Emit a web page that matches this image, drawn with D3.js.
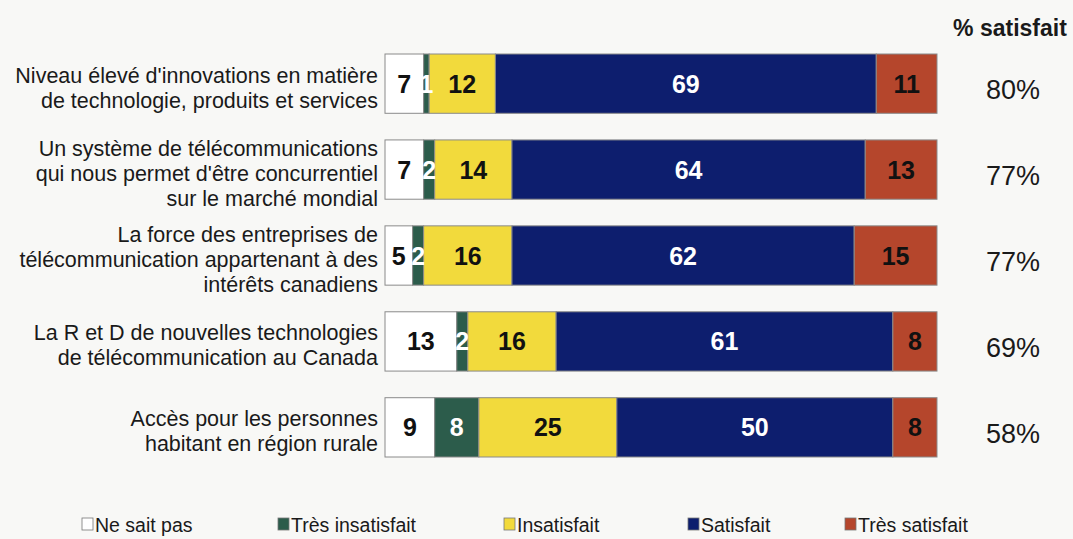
<!DOCTYPE html>
<html>
<head>
<meta charset="utf-8">
<script src="https://cdn.jsdelivr.net/npm/d3@7"></script>
<style>
  body { margin: 0; background: #f8f8f6; }
  svg { display: block; font-family: "Liberation Sans", Arial, sans-serif; }
</style>
</head>
<body>
<div id="chart"></div>
<script>
// categories (one entry per bar, split into the lines shown on the left)
const categories = [
    ["Niveau élevé d'innovations en matière", "de technologie, produits et services"],
    ["Un système de télécommunications", "qui nous permet d'être concurrentiel", "sur le marché mondial"],
    ["La force des entreprises de", "télécommunication appartenant à des", "intérêts canadiens"],
    ["La R et D de nouvelles technologies", "de télécommunication au Canada"],
    ["Accès pour les personnes", "habitant en région rurale"]
]
const seriesNames = ["Ne sait pas", "Très insatisfait", "Insatisfait", "Satisfait", "Très satisfait"]
const neSaitPas = [7, 7, 5, 13, 9]
const tresInsatisfait = [1, 2, 2, 2, 8]
const insatisfait = [12, 14, 16, 16, 25]
const satisfait = [69, 64, 62, 61, 50]
const tresSatisfait = [11, 13, 15, 8, 8]
const pctSatisfait = ["80%", "77%", "77%", "69%", "58%"]

function main() {
    const width = 1073
    const height = 539
    const colors = ["#ffffff", "#2c5c4b", "#f2da3c", "#0d1e6e", "#b5462c"]
    const labelColors = ["#111", "#fff", "#111", "#fff", "#111"]

    const svg = d3.select("#chart")
        .append("svg")
        .attr("width", width)
        .attr("height", height)

    // build rows for the stack
    const rows = categories.map((c, i) => ({
        key: i,
        "Ne sait pas": neSaitPas[i],
        "Très insatisfait": tresInsatisfait[i],
        "Insatisfait": insatisfait[i],
        "Satisfait": satisfait[i],
        "Très satisfait": tresSatisfait[i]
    }))
    const stacked = d3.stack().keys(seriesNames)(rows)

    const x = d3.scaleLinear().domain([0, 100]).range([385, 937])
    const y = d3.scaleBand().domain(d3.range(categories.length))
        .range([54, 457]).paddingInner(0.31).paddingOuter(0)
    const color = d3.scaleOrdinal().domain(seriesNames).range(colors)

    // bars
    const layer = svg.append("g").selectAll("g")
        .data(stacked)
        .join("g")
        .attr("fill", d => color(d.key))

    layer.selectAll("rect")
        .data(d => d)
        .join("rect")
        .attr("x", d => x(d[0]))
        .attr("y", (d, i) => y(i))
        .attr("width", d => x(d[1]) - x(d[0]))
        .attr("height", y.bandwidth())
        .attr("stroke", "#8a8a8a")
        .attr("stroke-width", 1)

    // values inside the segments
    stacked.forEach((s, si) => {
        svg.append("g").selectAll("text")
            .data(s)
            .join("text")
            .attr("x", d => (x(d[0]) + x(d[1])) / 2)
            .attr("y", (d, i) => y(i) + y.bandwidth() / 2)
            .attr("dy", "0.36em")
            .attr("text-anchor", "middle")
            .attr("font-size", 25)
            .attr("font-weight", "bold")
            .attr("fill", labelColors[si])
            .text(d => d[1] - d[0])
    })

    // category labels on the left
    const lineH = 25
    const cat = svg.append("g").selectAll("text")
        .data(categories)
        .join("text")
        .attr("text-anchor", "end")
        .attr("font-size", 21.5)
        .attr("fill", "#1a1a1a")
        .attr("y", (d, i) => y(i) + y.bandwidth() / 2 + 4 - (d.length - 1) * lineH / 2)
    cat.selectAll("tspan")
        .data(d => d)
        .join("tspan")
        .attr("x", 378)
        .attr("dy", (d, i) => i === 0 ? "0.35em" : lineH)
        .text(d => d)

    // % satisfait column
    svg.append("text")
        .attr("x", 1010)
        .attr("y", 36)
        .attr("text-anchor", "middle")
        .attr("font-size", 23)
        .attr("font-weight", "bold")
        .attr("fill", "#1a1a1a")
        .text("% satisfait")

    svg.append("g").selectAll("text")
        .data(pctSatisfait)
        .join("text")
        .attr("x", 1013)
        .attr("y", (d, i) => y(i) + y.bandwidth() / 2 + 6)
        .attr("dy", "0.36em")
        .attr("text-anchor", "middle")
        .attr("font-size", 27)
        .attr("fill", "#1a1a1a")
        .text(d => d)

    // legend
    const legendX = [82, 278, 504, 688, 845]
    const legend = svg.append("g").selectAll("g")
        .data(seriesNames)
        .join("g")
        .attr("transform", (d, i) => `translate(${legendX[i]},518)`)
    legend.append("rect")
        .attr("width", 11)
        .attr("height", 12)
        .attr("fill", d => color(d))
        .attr("stroke", "#777")
        .attr("stroke-width", 0.8)
    legend.append("text")
        .attr("x", 13)
        .attr("y", 7)
        .attr("dy", "0.36em")
        .attr("font-size", 19.5)
        .attr("fill", "#1a1a1a")
        .text(d => d)
}
main();
</script>
</body>
</html>
